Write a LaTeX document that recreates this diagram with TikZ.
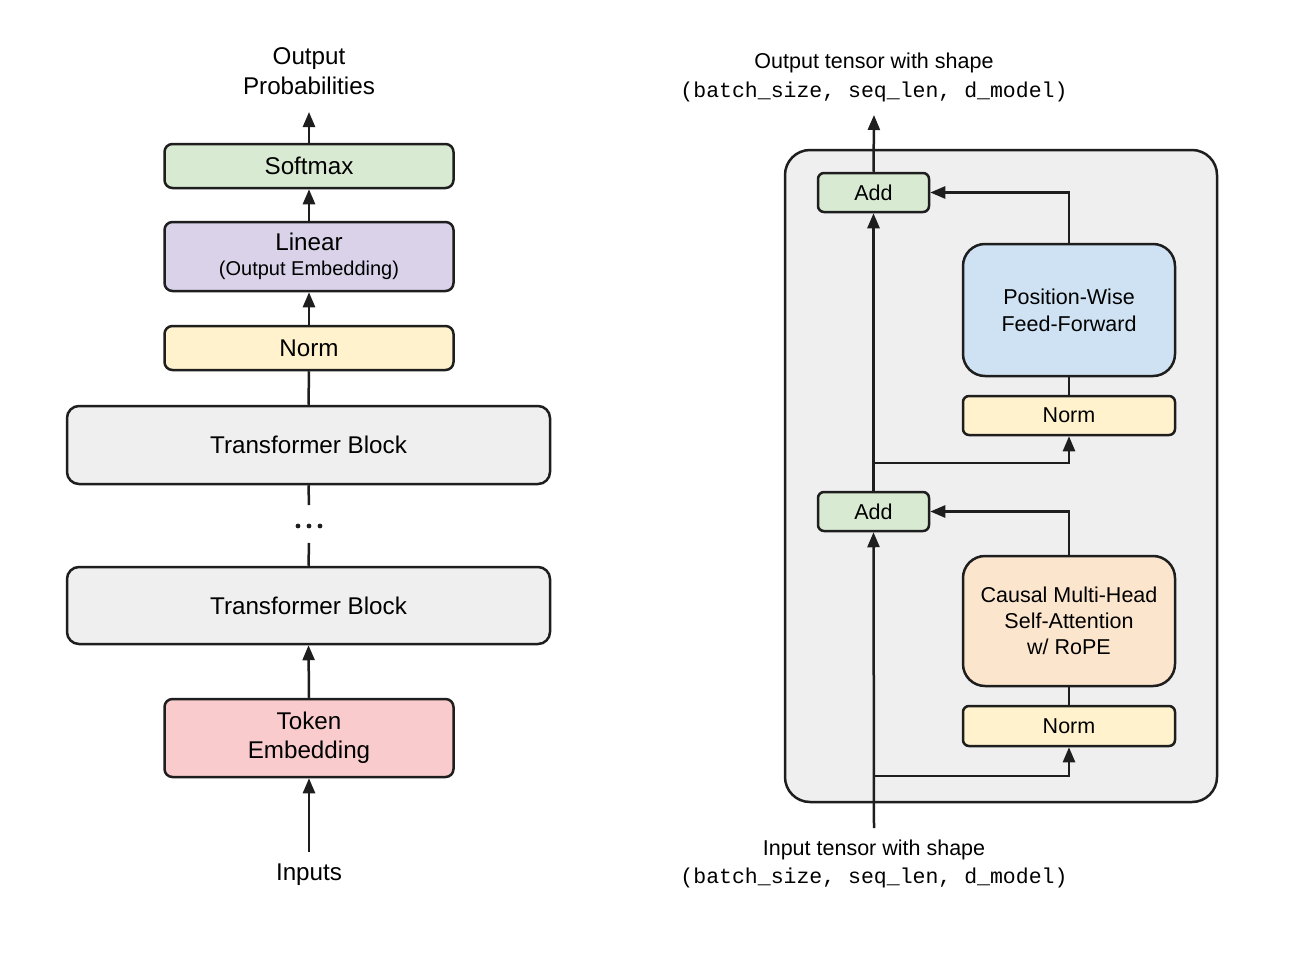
\documentclass[tikz,border=0pt]{standalone}
\usepackage{fontspec}
\setmainfont{Liberation Sans}
\setmonofont{Liberation Mono}
\usetikzlibrary{arrows.meta}
\definecolor{edge}{HTML}{1E1E1E}
\definecolor{softgreen}{HTML}{D9EAD3}
\definecolor{softpurple}{HTML}{D9D2E9}
\definecolor{softyellow}{HTML}{FFF2CC}
\definecolor{softgray}{HTML}{EFEFEF}
\definecolor{softred}{HTML}{F9CBCC}
\definecolor{softblue}{HTML}{CFE2F3}
\definecolor{softorange}{HTML}{FCE5CD}
\begin{document}
\begin{tikzpicture}[x=1pt,y=-1pt,
  box/.style={draw=edge, line width=2.5pt, rounded corners=8pt, inner sep=0pt,
    align=center, text=black},
  bigfont/.style={font=\fontsize{24.2}{30}\selectfont},
  smallfont/.style={font=\fontsize{21.5}{27}\selectfont},
  wire/.style={draw=edge, line width=2.5pt},
  arr/.style={wire, -{Triangle[length=15pt,width=12pt]}},
  lbl/.style={align=center, inner sep=0pt, text=black}
]
\useasboundingbox (0,0) rectangle (1302,966);
\fill[white] (0,0) rectangle (1302,966);

% ---------- left: decoder stack ----------
\node[lbl, bigfont] (outp) at (309,71) {Output\\Probabilities};
\node[box, bigfont, fill=softgreen, minimum width=289pt, minimum height=44pt] (softmax) at (309,166) {Softmax};
\node[box, bigfont, fill=softpurple, minimum width=289pt, minimum height=69pt] (linear) at (309,256.5)
  {\raisebox{-3pt}{Linear}\\[-2pt]{\fontsize{20}{24}\selectfont(Output Embedding)}};
\node[box, bigfont, fill=softyellow, minimum width=289pt, minimum height=44pt] (normL) at (309,348) {Norm};
\node[box, bigfont, fill=softgray, rounded corners=12pt, minimum width=483pt, minimum height=78pt] (tb1) at (308.5,445) {Transformer Block};
\node[box, bigfont, fill=softgray, rounded corners=12pt, minimum width=483pt, minimum height=77pt] (tb2) at (308.5,605.5) {Transformer Block};
\node[box, bigfont, fill=softred, minimum width=289pt, minimum height=78pt] (tok) at (309,738) {\raisebox{-3pt}{Token}\\[-1pt]\raisebox{-3pt}{Embedding}};
\node[lbl, bigfont] (inp) at (309,875) {Inputs};

\coordinate (outtip) at (309,112);
\coordinate (gapTop) at (309,505);
\coordinate (gapBot) at (309,543);
\coordinate (dots) at (309,526);
\coordinate (inTail) at (309,852);

\draw[arr] (softmax.north) -- (outtip);
\draw[arr] (linear.north) -- (softmax.south);
\draw[arr] (normL.north) -- (linear.south);
\draw[wire] (tb1.north) -- (normL.south);
\draw[wire] (tb1.south) -- (gapTop);
\draw[wire] (gapBot) -- (tb2.north);
\foreach \dx in {-11,0,11} \fill[edge] ([xshift=\dx pt]dots) circle (2.4pt);
\draw[arr] (tok.north) -- (tb2.south);
\draw[arr] (inTail) -- (tok.south);

% ---------- right: one transformer block ----------
\node[draw=edge, line width=2.5pt, fill=softgray, rounded corners=25pt, inner sep=0pt,
  minimum width=432pt, minimum height=652pt] (frame) at (1001,476) {};

\node[box, smallfont, fill=softgreen, rounded corners=6pt, minimum width=111pt, minimum height=39pt] (add1) at (873.5,192.5) {Add};
\node[box, smallfont, fill=softgreen, rounded corners=6pt, minimum width=111pt, minimum height=39pt] (add2) at (873.5,511.5) {Add};
\node[box, smallfont, fill=softblue, rounded corners=22pt, minimum width=212pt, minimum height=132pt] (ffn) at (1069,310) {Position-Wise\\Feed-Forward};
\node[box, smallfont, fill=softyellow, rounded corners=6pt, minimum width=212pt, minimum height=39pt] (norm1) at (1069,415.5) {Norm};
\node[box, smallfont, fill=softorange, rounded corners=22pt, minimum width=212pt, minimum height=130pt] (attn) at (1069,621) {Causal Multi-Head\\[-1pt]Self-Attention\\[-1pt]w/ RoPE};
\node[box, smallfont, fill=softyellow, rounded corners=6pt, minimum width=212pt, minimum height=40pt] (norm2) at (1069,726) {Norm};

\node[lbl, smallfont] (outT) at (874,77.5) {Output tensor with shape\\[2pt]{\ttfamily (batch\_size, seq\_len, d\_model)}};
\node[lbl, smallfont] (inT) at (874,864) {Input tensor with shape\\[1pt]{\ttfamily (batch\_size, seq\_len, d\_model)}};

\coordinate (outTip) at (874,115);
\coordinate (inBase) at (874,828);
\coordinate (split2) at (874,776);
\coordinate (split1) at (874,463);

\draw[arr] (add1.north) -- (outTip);
\draw[arr] (add2.north) -- (add1.south);
\draw[arr] (inBase) -- (add2.south);
\draw[arr] (split2) -| (norm2.south);
\draw[wire] (norm2.north) -- (attn.south);
\draw[arr] (attn.north) |- (add2.east);
\draw[arr] (split1) -| (norm1.south);
\draw[wire] (norm1.north) -- (ffn.south);
\draw[arr] (ffn.north) |- (add1.east);
\end{tikzpicture}
\end{document}
